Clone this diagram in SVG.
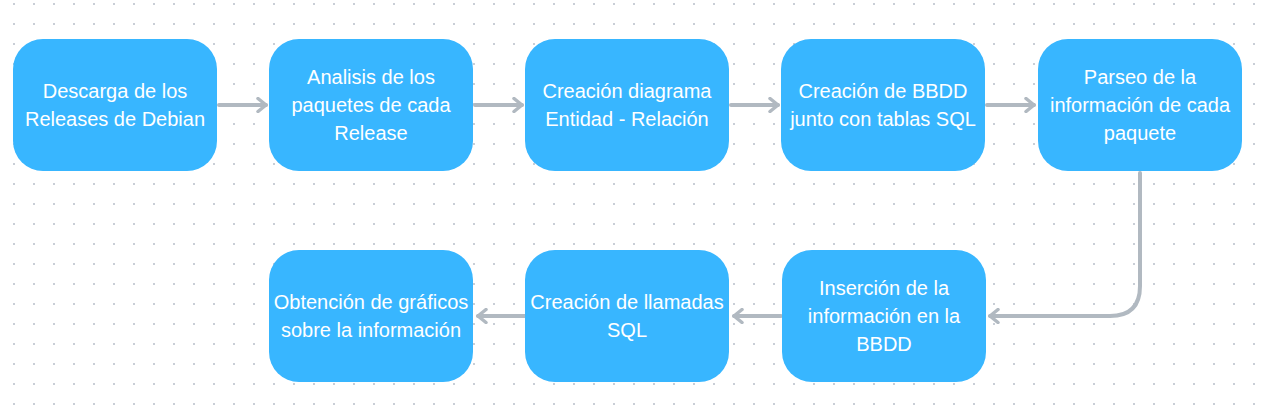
<svg xmlns="http://www.w3.org/2000/svg" width="1265" height="410" viewBox="0 0 1265 410">
<defs>
<pattern id="dots" x="13" y="3" width="20" height="20" patternUnits="userSpaceOnUse">
<rect x="0" y="0" width="2" height="2" fill="#c9ced6"/>
</pattern>
<marker id="arr" viewBox="0 0 12 16" refX="10" refY="8" markerWidth="12" markerHeight="16" markerUnits="userSpaceOnUse" orient="auto">
<path d="M2,1.5 L10,8 L2,14.5" fill="none" stroke="#b1b9c1" stroke-width="3.5" stroke-linecap="round" stroke-linejoin="round"/>
</marker>
</defs>
<style>
.n{fill:#38b6ff}
.t{font-family:"Liberation Sans",Arial,sans-serif;font-size:20px;fill:#ffffff;text-anchor:middle}
.c{fill:none;stroke:#b1b9c1;stroke-width:4;stroke-linecap:round;marker-end:url(#arr)}
</style>
<rect width="1265" height="410" fill="#ffffff"/>
<rect width="1265" height="410" fill="url(#dots)"/>
<g id="connectors">
<path class="c" d="M219,105 H266"/>
<path class="c" d="M475,105 H522"/>
<path class="c" d="M731,105 H778"/>
<path class="c" d="M987,105 H1034"/>
<path class="c" d="M1140,173 V286 Q1140,316 1110,316 H990"/>
<path class="c" d="M781,316 H734"/>
<path class="c" d="M525,316 H478"/>
</g>
<g id="n1"><rect class="n" x="13" y="39" width="204" height="132" rx="30"/>
<text class="t" x="115" y="98">Descarga de los</text><text class="t" x="115" y="126">Releases de Debian</text></g>
<g id="n2"><rect class="n" x="269" y="39" width="204" height="132" rx="30"/>
<text class="t" x="371" y="84">Analisis de los</text><text class="t" x="371" y="112">paquetes de cada</text><text class="t" x="371" y="140">Release</text></g>
<g id="n3"><rect class="n" x="525" y="39" width="204" height="132" rx="30"/>
<text class="t" x="627" y="98">Creación diagrama</text><text class="t" x="627" y="126">Entidad - Relación</text></g>
<g id="n4"><rect class="n" x="781" y="39" width="204" height="132" rx="30"/>
<text class="t" x="883" y="98">Creación de BBDD</text><text class="t" x="883" y="126">junto con tablas SQL</text></g>
<g id="n5"><rect class="n" x="1038" y="39" width="204" height="132" rx="30"/>
<text class="t" x="1140" y="84">Parseo de la</text><text class="t" x="1140" y="112">información de cada</text><text class="t" x="1140" y="140">paquete</text></g>
<g id="n6"><rect class="n" x="782" y="250" width="204" height="132" rx="30"/>
<text class="t" x="884" y="295">Inserción de la</text><text class="t" x="884" y="323">información en la</text><text class="t" x="884" y="351">BBDD</text></g>
<g id="n7"><rect class="n" x="525" y="250" width="204" height="132" rx="30"/>
<text class="t" x="627" y="309">Creación de llamadas</text><text class="t" x="627" y="337">SQL</text></g>
<g id="n8"><rect class="n" x="269" y="250" width="204" height="132" rx="30"/>
<text class="t" x="371" y="309">Obtención de gráficos</text><text class="t" x="371" y="337">sobre la información</text></g>
</svg>
